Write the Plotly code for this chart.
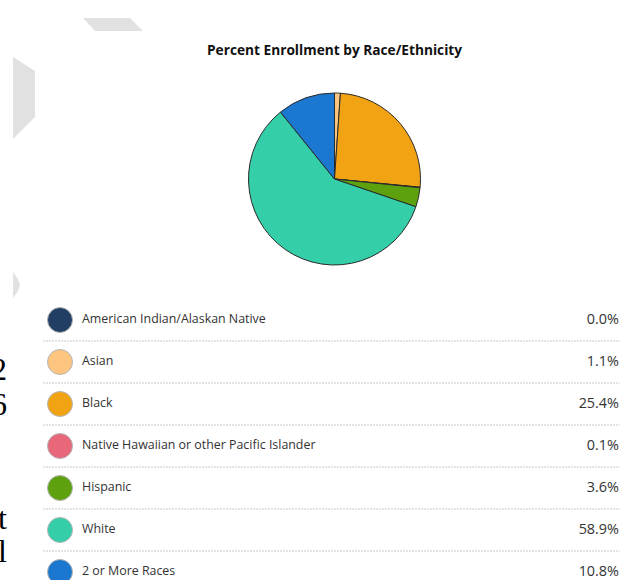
import plotly.graph_objects as go

W, H = 621, 580

categories = [
    "American Indian/Alaskan Native",
    "Asian",
    "Black",
    "Native Hawaiian or other Pacific Islander",
    "Hispanic",
    "White",
    "2 or More Races",
]
percents = [0.0, 1.1, 25.4, 0.1, 3.6, 58.9, 10.8]
colors = ["#213f63", "#fdc57f", "#f2a314", "#e8687a", "#5da10f", "#34cea8", "#1b77cf"]
value_labels = [f"{v:.1f}%" for v in percents]
title_text = "Percent Enrollment by Race/Ethnicity"
side_fragments = ["2", "6", "t", "l"]

# layout helpers (pixels)
cx, cy, r = 334.5, 179, 86
row0, row_step = 320, 42
n = len(categories)
row_y = [row0 + row_step * i for i in range(n)]

fig = go.Figure()

fig.add_trace(go.Pie(
    labels=categories,
    values=percents,
    sort=False,
    direction="clockwise",
    rotation=0,
    marker=dict(colors=colors, line=dict(color="#2b2b2b", width=1)),
    textinfo="none",
    hoverinfo="label+percent",
    showlegend=False,
    domain=dict(x=[(cx - r) / W, (cx + r) / W], y=[1 - (cy + r) / H, 1 - (cy - r) / H]),
))

# legend circles
fig.add_trace(go.Scatter(
    x=[60] * n, y=row_y, mode="markers",
    marker=dict(size=25, color=colors, line=dict(color="#b5b5b5", width=1)),
    hoverinfo="skip", showlegend=False, xaxis="x", yaxis="y",
))
# legend labels
fig.add_trace(go.Scatter(
    x=[82] * n, y=row_y, mode="text", text=categories, textposition="middle right",
    textfont=dict(family="Open Sans", size=12.4, color="#333333"),
    hoverinfo="skip", showlegend=False, xaxis="x", yaxis="y",
))
# values
fig.add_trace(go.Scatter(
    x=[619] * n, y=row_y, mode="text", text=value_labels, textposition="middle left",
    textfont=dict(family="Open Sans", size=14.4, color="#333333"),
    hoverinfo="skip", showlegend=False, xaxis="x", yaxis="y",
))

shapes = []
# decorative grey shapes
shapes.append(dict(type="path", path="M 83 18 L 130 18 L 143 31 L 95 31 Z",
                   xref="x", yref="y", fillcolor="#e1e1e1", line=dict(width=0), layer="below"))
shapes.append(dict(type="path", path="M 13 57 L 35 71 L 35 117 L 13 139 Z",
                   xref="x", yref="y", fillcolor="#e1e1e1", line=dict(width=0), layer="below"))
shapes.append(dict(type="path", path="M 13 272 L 18 279 L 20 285 L 18 291 L 13 298 Z",
                   xref="x", yref="y", fillcolor="#e1e1e1", line=dict(width=0), layer="below"))
# dashed separators
for i in range(n - 1):
    yy = row_y[i] + 21
    shapes.append(dict(type="line", x0=43, x1=620, y0=yy, y1=yy, xref="x", yref="y",
                       line=dict(color="#c8c8c8", width=1, dash="2px,1px")))

annotations = [dict(
    text="<b>" + title_text + "</b>", x=cx, y=49, xref="x", yref="y",
    showarrow=False, xanchor="center", yanchor="middle",
    font=dict(family="Open Sans", size=13.7, color="#111111"),
)]
frag_y = [369, 404, 518, 551]
for t, yy in zip(side_fragments, frag_y):
    annotations.append(dict(
        text=t, x=9, y=yy, xref="x", yref="y", showarrow=False,
        xanchor="right", yanchor="middle",
        font=dict(family="Liberation Serif", size=32, color="#000000"),
    ))

fig.update_layout(
    width=W, height=H,
    margin=dict(l=0, r=0, t=0, b=0),
    paper_bgcolor="white", plot_bgcolor="rgba(0,0,0,0)",
    xaxis=dict(range=[0, W], domain=[0, 1], visible=False, fixedrange=True),
    yaxis=dict(range=[H, 0], domain=[0, 1], visible=False, fixedrange=True),
    shapes=shapes,
    annotations=annotations,
    showlegend=False,
)

fig.write_html(
    "out.html",
    config={"displayModeBar": False},
    post_script="document.body.style.margin='0';document.body.style.overflow='hidden';",
)
